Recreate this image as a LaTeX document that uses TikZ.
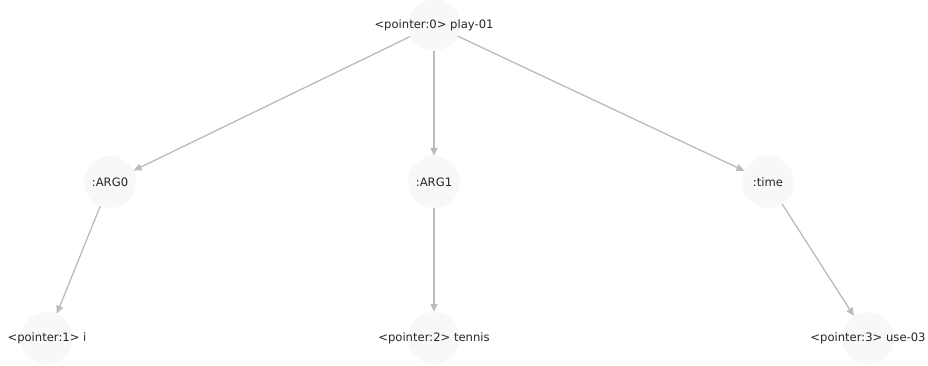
\documentclass[tikz,border=0pt]{standalone}
\usepackage{fontspec}
\setmainfont{DejaVu Sans}
\usetikzlibrary{arrows.meta}
\definecolor{nodefill}{HTML}{F8F8F8}
\definecolor{edgecol}{HTML}{BBBBBB}
\begin{document}
\begin{tikzpicture}[x=1pt,y=-1pt,
  amr/.style={circle,fill=nodefill,minimum size=52pt,inner sep=0pt},
  lbl/.style={font=\fontsize{11.6}{14}\selectfont,text=black!85},
  edge/.style={draw=edgecol,line width=1.3pt,-{Triangle[length=8pt,width=7pt]}}]
\useasboundingbox (0,0) rectangle (928,366);
\node[amr] (root) at (434,25) {};
\node[amr] (a0) at (110,182) {};
\node[amr] (a1) at (434,182) {};
\node[amr] (tm) at (768,182) {};
\node[amr] (p1) at (47,338) {};
\node[amr] (p2) at (434,338) {};
\node[amr] (p3) at (868,338) {};
\node[lbl] (t0) at (root) {<pointer:0> play-01};
\node[lbl] (t1) at (a0) {:ARG0};
\node[lbl] (t2) at (a1) {:ARG1};
\node[lbl] (t3) at (tm) {:time};
\node[lbl] (t4) at (p1) {<pointer:1> i};
\node[lbl] (t5) at (p2) {<pointer:2> tennis};
\node[lbl] (t6) at (p3) {<pointer:3> use-03};
\draw[edge] (root) -- (a0);
\draw[edge] (root) -- (a1);
\draw[edge] (root) -- (tm);
\draw[edge] (a0) -- (p1);
\draw[edge] (a1) -- (p2);
\draw[edge] (tm) -- (p3);
\end{tikzpicture}
\end{document}
